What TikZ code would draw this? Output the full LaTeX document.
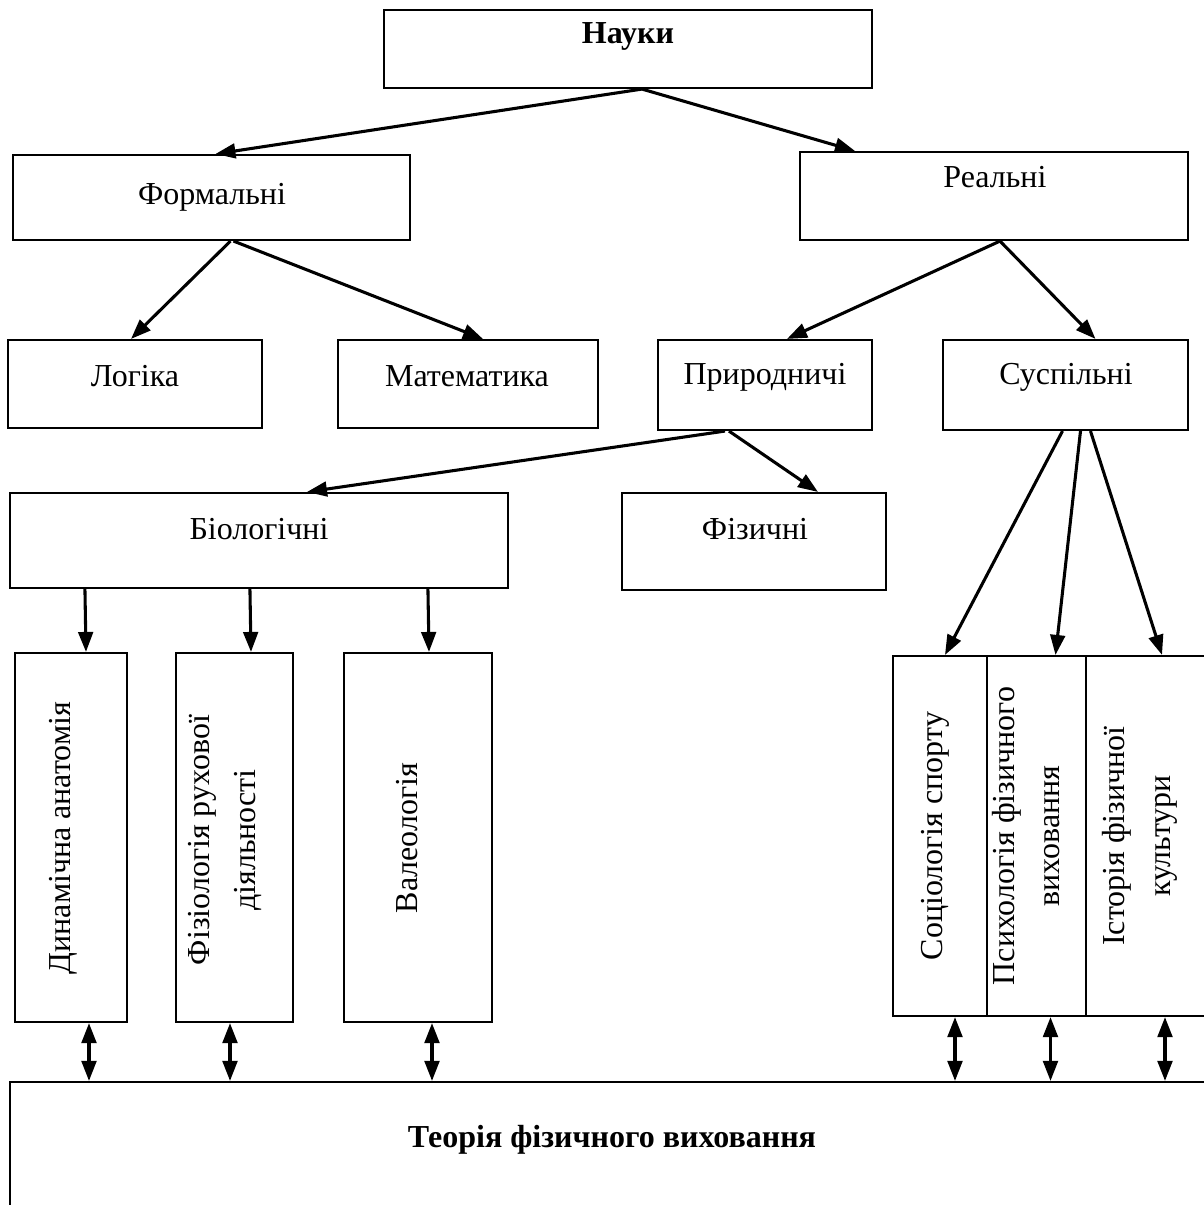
\documentclass[tikz,border=0pt]{standalone}
\usepackage{fontspec}
\setmainfont{Liberation Serif}
\usetikzlibrary{arrows.meta}

\def\px{0.375pt}

\tikzset{
  box/.style={draw, line width=0.8pt, inner sep=0pt},
  lbl/.style={font=\fontsize{12}{17}\selectfont, inner sep=0pt, align=center},
  vlbl/.style={lbl, rotate=90},
  arr/.style={-{Triangle[length=7.5pt,width=5.5pt]}, line width=1.15pt},
  dbl/.style={{Triangle[length=7.5pt,width=5.5pt]}-{Triangle[length=7.5pt,width=5.5pt]}, line width=1.15pt},
}

\begin{document}
\begin{tikzpicture}[x=\px, y=-\px]
    \path[use as bounding box] (0,0) rectangle (1204,1205);
    \clip (0,0) rectangle (1204,1205);

    % boxes
    \node[box, minimum width=488*\px, minimum height=78*\px] (nauki) at (628,49) {};
    \node[box, minimum width=397*\px, minimum height=85*\px] (form) at (211.5,197.5) {};
    \node[box, minimum width=388*\px, minimum height=88*\px] (real) at (994,196) {};
    \node[box, minimum width=254*\px, minimum height=88*\px] (logic) at (135,384) {};
    \node[box, minimum width=260*\px, minimum height=88*\px] (math) at (468,384) {};
    \node[box, minimum width=214*\px, minimum height=90*\px] (pryr) at (765,385) {};
    \node[box, minimum width=245*\px, minimum height=90*\px] (susp) at (1065.5,385) {};
    \node[box, minimum width=498*\px, minimum height=95*\px] (bio) at (259,540.5) {};
    \node[box, minimum width=264*\px, minimum height=97*\px] (fiz) at (754,541.5) {};
    \node[box, minimum width=112*\px, minimum height=369*\px] (dyn) at (71,837.5) {};
    \node[box, minimum width=117*\px, minimum height=369*\px] (phys) at (234.5,837.5) {};
    \node[box, minimum width=148*\px, minimum height=369*\px] (val) at (418,837.5) {};
    \node[box, minimum width=94*\px, minimum height=360*\px] (soc) at (940,836) {};
    \node[box, minimum width=99*\px, minimum height=360*\px] (psy) at (1036.5,836) {};
    \node[box, minimum width=128*\px, minimum height=360*\px] (ist) at (1150,836) {};
    \node[box, minimum width=1204*\px, minimum height=133*\px] (theory) at (612,1148.5) {};

    % texts
    \node[lbl, font=\fontsize{12}{17}\selectfont\bfseries] (naukit) at (628,36) {Науки};
    \node[lbl] (formt) at (212,197) {Формальні};
    \node[lbl] (realt) at (995,177) {Реальні};
    \node[lbl] (logict) at (135,376) {Логіка};
    \node[lbl] (matht) at (467,376) {Математика};
    \node[lbl] (pryrt) at (765,377) {Природничі};
    \node[lbl] (suspt) at (1066,377) {Суспільні};
    \node[lbl] (biot) at (259,529) {Біологічні};
    \node[lbl] (fizt) at (755,529) {Фізичні};
    \node[vlbl] (dynt) at (63,838) {Динамічна анатомія};
    \node[vlbl] (physt) at (225,840) {Фізіологія рухової\\діяльності};
    \node[vlbl] (valt) at (407,838) {Валеологія};
    \node[vlbl] (soct) at (935,836) {Соціологія спорту};
    \node[vlbl] (psyt) at (1026,836) {Психологія фізичного\\виховання};
    \node[vlbl] (istt) at (1140,836) {Історія фізичної\\культури};
    \node[lbl, font=\fontsize{12}{17}\selectfont\bfseries] (theoryt) at (612,1140) {Теорія фізичного виховання};

    % arrows
    \draw[arr] ([xshift=14*\px]nauki.south) -- ([xshift=4*\px]form.north);
    \draw[arr] ([xshift=14*\px]nauki.south) -- ([xshift=-139*\px]real.north);
    \draw[arr] ([xshift=19*\px]form.south) -- ([xshift=-4*\px]logic.north);
    \draw[arr] ([xshift=22*\px]form.south) -- ([xshift=15*\px]math.north);
    \draw[arr] ([xshift=6*\px]real.south) -- ([xshift=22*\px]pryr.north);
    \draw[arr] ([xshift=6*\px]real.south) -- ([xshift=30*\px]susp.north);
    \draw[arr] ([xshift=-40*\px]pryr.south) -- ([xshift=48*\px]bio.north);
    \draw[arr] ([xshift=-36*\px]pryr.south) -- ([xshift=64*\px]fiz.north);
    \draw[arr] ([xshift=-3*\px]susp.south) -- ([xshift=5*\px]soc.north);
    \draw[arr] ([xshift=15*\px]susp.south) -- ([xshift=19*\px]psy.north);
    \draw[arr] ([xshift=25*\px]susp.south) -- ([xshift=12*\px]ist.north);
    \draw[arr] ([xshift=76*\px]bio.south west) -- ([xshift=15*\px]dyn.north);
    \draw[arr] ([xshift=241*\px]bio.south west) -- ([xshift=16.5*\px]phys.north);
    \draw[arr] ([xshift=419*\px]bio.south west) -- ([xshift=11*\px]val.north);
    \foreach \n/\dx in {dyn/18, phys/-4.5, val/14, soc/15, psy/14, ist/15} {
      \coordinate (top) at ([xshift=\dx*\px]\n.south);
      \draw[dbl] (top) -- (top |- theory.north);
    }
\end{tikzpicture}
\end{document}
